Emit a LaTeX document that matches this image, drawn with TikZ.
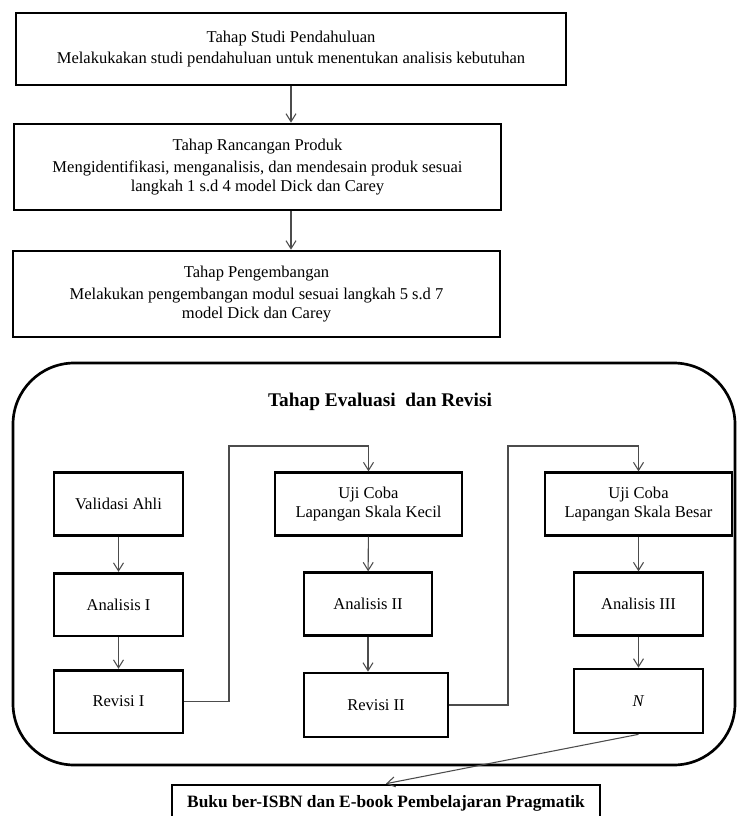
\documentclass[tikz,border=0pt]{standalone}
\usepackage{fontspec}
\setmainfont{Liberation Serif}
\usetikzlibrary{arrows.meta}

\tikzset{
  stagebox/.style={draw, line width=2pt, rectangle, align=center, inner sep=0pt,
    font=\fontsize{12.4}{14.3}\selectfont},
  evalbox/.style={stagebox, minimum width=96.75pt, minimum height=47pt},
  arr/.style={draw=black!70, line width=0.8pt, -{Straight Barb[length=6pt,width=7.5pt]}},
  link/.style={draw=black!70, line width=0.8pt}
}

\begin{document}
\begin{tikzpicture}[x=0.75pt, y=-0.75pt]
    \useasboundingbox (0,0) rectangle (736,816);

    % tahap awal
    \node[stagebox, minimum width=412.5pt, minimum height=54pt] (studi) at (291,49)
      {Tahap Studi Pendahuluan\\[2pt] Melakukakan studi pendahuluan untuk menentukan analisis kebutuhan};
    \node[stagebox, minimum width=365.25pt, minimum height=64.5pt] (rancang) at (257.5,167)
      {Tahap Rancangan Produk\\[2pt] Mengidentifikasi, menganalisis, dan mendesain produk sesuai\\ langkah 1 s.d 4 model Dick dan Carey};
    \node[stagebox, minimum width=365.25pt, minimum height=64.5pt] (kembang) at (256.5,294)
      {Tahap Pengembangan\\[2pt] Melakukan pengembangan modul sesuai langkah 5 s.d 7\\ model Dick dan Carey};
    \draw[arr] (studi.south) -- (studi.south |- rancang.north);
    \draw[arr] (studi.south |- rancang.south) -- (studi.south |- kembang.north);

    % tahap evaluasi dan revisi
    \draw[line width=2pt, rounded corners=46pt] (13,363) rectangle (735,765);
    \node[font=\fontsize{14.5}{16}\selectfont\bfseries] (judul) at (380,402) {Tahap Evaluasi \ dan Revisi};

    \node[evalbox] (validasi) at (118.5,504) {Validasi Ahli};
    \node[evalbox] (analisis1) at (118.5,604.5) {Analisis I};
    \node[evalbox] (revisi1) at (118.5,701.5) {Revisi I};

    \node[evalbox, minimum width=140.25pt] (ujikecil) at (368.5,504) {Uji Coba\\ Lapangan Skala Kecil};
    \node[evalbox, minimum width=96pt] (analisis2) at (368,604) {Analisis II};
    \node[evalbox, minimum width=108pt, minimum height=48pt] (revisi2) at (376,705) {Revisi II};

    \node[evalbox, minimum width=140.25pt] (ujibesar) at (638.5,504) {Uji Coba\\ Lapangan Skala Besar};
    \node[evalbox] (analisis3) at (638.5,604) {Analisis III};
    \node[evalbox, minimum height=48pt] (akhir) at (638.5,701) {\textit{N}};

    \draw[arr] (validasi) -- (analisis1);
    \draw[arr] (analisis1) -- (revisi1);
    \draw[arr] (ujikecil) -- (analisis2);
    \draw[arr] (analisis2.south) -- (analisis2.south |- revisi2.north);
    \draw[arr] (ujibesar) -- (analisis3);
    \draw[arr] (analisis3) -- (akhir);

    \coordinate (naik1) at (229,446);
    \coordinate (naik2) at (508,446);
    \draw[link] (revisi1.east) -- (revisi1.east -| naik1) -- (naik1) -- (naik1 -| ujikecil.north);
    \draw[arr] (naik1 -| ujikecil.north) -- (ujikecil.north);
    \draw[link] (revisi2.east) -- (revisi2.east -| naik2) -- (naik2) -- (naik2 -| ujibesar.north);
    \draw[arr] (naik2 -| ujibesar.north) -- (ujibesar.north);

    % produk akhir
    \node[stagebox, minimum width=321pt, minimum height=27pt,
      font=\fontsize{13}{15}\selectfont\bfseries] (buku) at (386,803)
      {Buku ber-ISBN dan E-book Pembelajaran Pragmatik};
    \draw[arr] (akhir.south) -- (buku.north);
\end{tikzpicture}
\end{document}
